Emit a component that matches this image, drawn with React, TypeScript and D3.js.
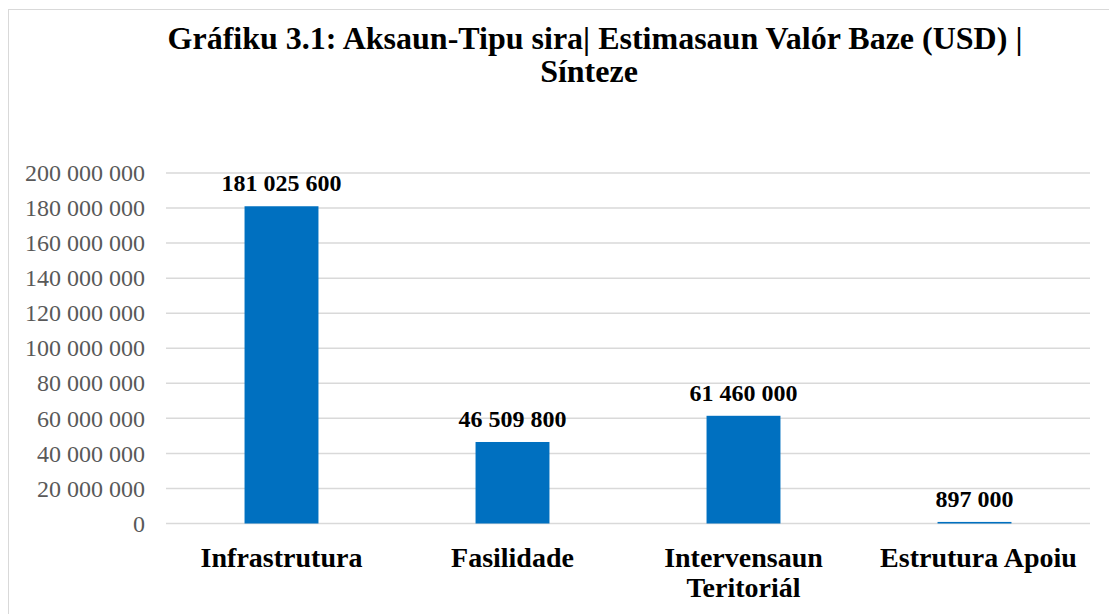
import React, { useEffect, useRef } from 'react';
import * as d3 from 'd3';

const categories: string[][] = [
  ['Infrastrutura'],
  ['Fasilidade'],
  ['Intervensaun', 'Teritoriál'],
  ['Estrutura Apoiu'],
];
const values = [181025600, 46509800, 61460000, 897000];
const yTicks = [0, 20000000, 40000000, 60000000, 80000000, 100000000, 120000000, 140000000, 160000000, 180000000, 200000000];
const titleLines = ['Gráfiku 3.1: Aksaun-Tipu sira| Estimasaun Valór Baze (USD) |', 'Sínteze'];

const fmt = (v: number) => d3.format(',')(v).replace(/,/g, ' ');

const App: React.FC = () => {
  const svgRef = useRef<SVGSVGElement>(null);

  useEffect(() => {
    if (!svgRef.current) return;
    const svg = d3.select(svgRef.current);
    svg.selectAll('*').remove();

    const width = 1109;
    const height = 614;
    const margin = { top: 173, right: 19, bottom: 90.5, left: 166 };
    const font = 'Liberation Serif, DejaVu Serif, serif';

    svg.attr('width', width).attr('height', height)
      .style('font-family', font);

    // Chart frame
    svg.append('rect')
      .attr('x', 8.5).attr('y', 9.5)
      .attr('width', width + 20).attr('height', height + 20)
      .attr('fill', 'white').attr('stroke', '#d9d9d9').attr('stroke-width', 1);

    // Title (second line sits a little left, like the original)
    svg.append('text')
      .attr('text-anchor', 'middle')
      .attr('font-weight', 'bold').attr('font-size', 32)
      .attr('fill', '#000')
      .selectAll('tspan')
      .data(titleLines)
      .enter()
      .append('tspan')
      .attr('x', (d, i) => (i === 0 ? 595 : 589))
      .attr('y', (d, i) => 49 + i * 33)
      .text(d => d);

    const x = d3.scaleBand<number>()
      .domain(d3.range(values.length))
      .range([margin.left, width - margin.right])
      .padding(0);

    const y = d3.scaleLinear()
      .domain([0, 200000000])
      .range([height - margin.bottom, margin.top]);

    const barW = x.bandwidth() * 0.32;

    // Gridlines
    svg.append('g')
      .selectAll('line')
      .data(yTicks)
      .enter()
      .append('line')
      .attr('x1', margin.left).attr('x2', width - margin.right)
      .attr('y1', d => y(d)).attr('y2', d => y(d))
      .attr('stroke', '#d9d9d9').attr('stroke-width', 1.5);

    // Y axis labels
    svg.append('g')
      .selectAll('text')
      .data(yTicks)
      .enter()
      .append('text')
      .attr('x', 145)
      .attr('y', d => y(d))
      .attr('dy', '0.34em')
      .attr('text-anchor', 'end')
      .attr('font-size', 24)
      .attr('fill', '#595959')
      .text(d => fmt(d));

    // Bars
    svg.append('g')
      .selectAll('rect')
      .data(values)
      .enter()
      .append('rect')
      .attr('x', (d, i) => x(i)! + x.bandwidth() / 2 - barW / 2)
      .attr('y', d => y(d))
      .attr('width', barW)
      .attr('height', d => y(0) - y(d))
      .attr('fill', '#0070c0');

    // Value labels
    svg.append('g')
      .selectAll('text')
      .data(values)
      .enter()
      .append('text')
      .attr('x', (d, i) => x(i)! + x.bandwidth() / 2)
      .attr('y', d => y(d) - 15)
      .attr('text-anchor', 'middle')
      .attr('font-weight', 'bold').attr('font-size', 24)
      .attr('fill', '#000')
      .text(d => fmt(d));

    // Category labels
    const cat = svg.append('g')
      .selectAll('text')
      .data(categories)
      .enter()
      .append('text')
      .attr('text-anchor', 'middle')
      .attr('font-weight', 'bold').attr('font-size', 28)
      .attr('fill', '#000');
    cat.selectAll('tspan')
      .data((d, i) => d.map(line => ({ line, i })))
      .enter()
      .append('tspan')
      .attr('x', d => x(d.i)! + x.bandwidth() / 2 + (d.i === 3 ? 4 : 0))
      .attr('y', (d, j) => 567 + j * 30)
      .text(d => d.line);
  }, []);

  return (
    <div style={{ position: 'absolute', left: 0, top: 0 }}>
      <svg ref={svgRef} style={{ display: 'block' }}></svg>
    </div>
  );
};

export default App;
